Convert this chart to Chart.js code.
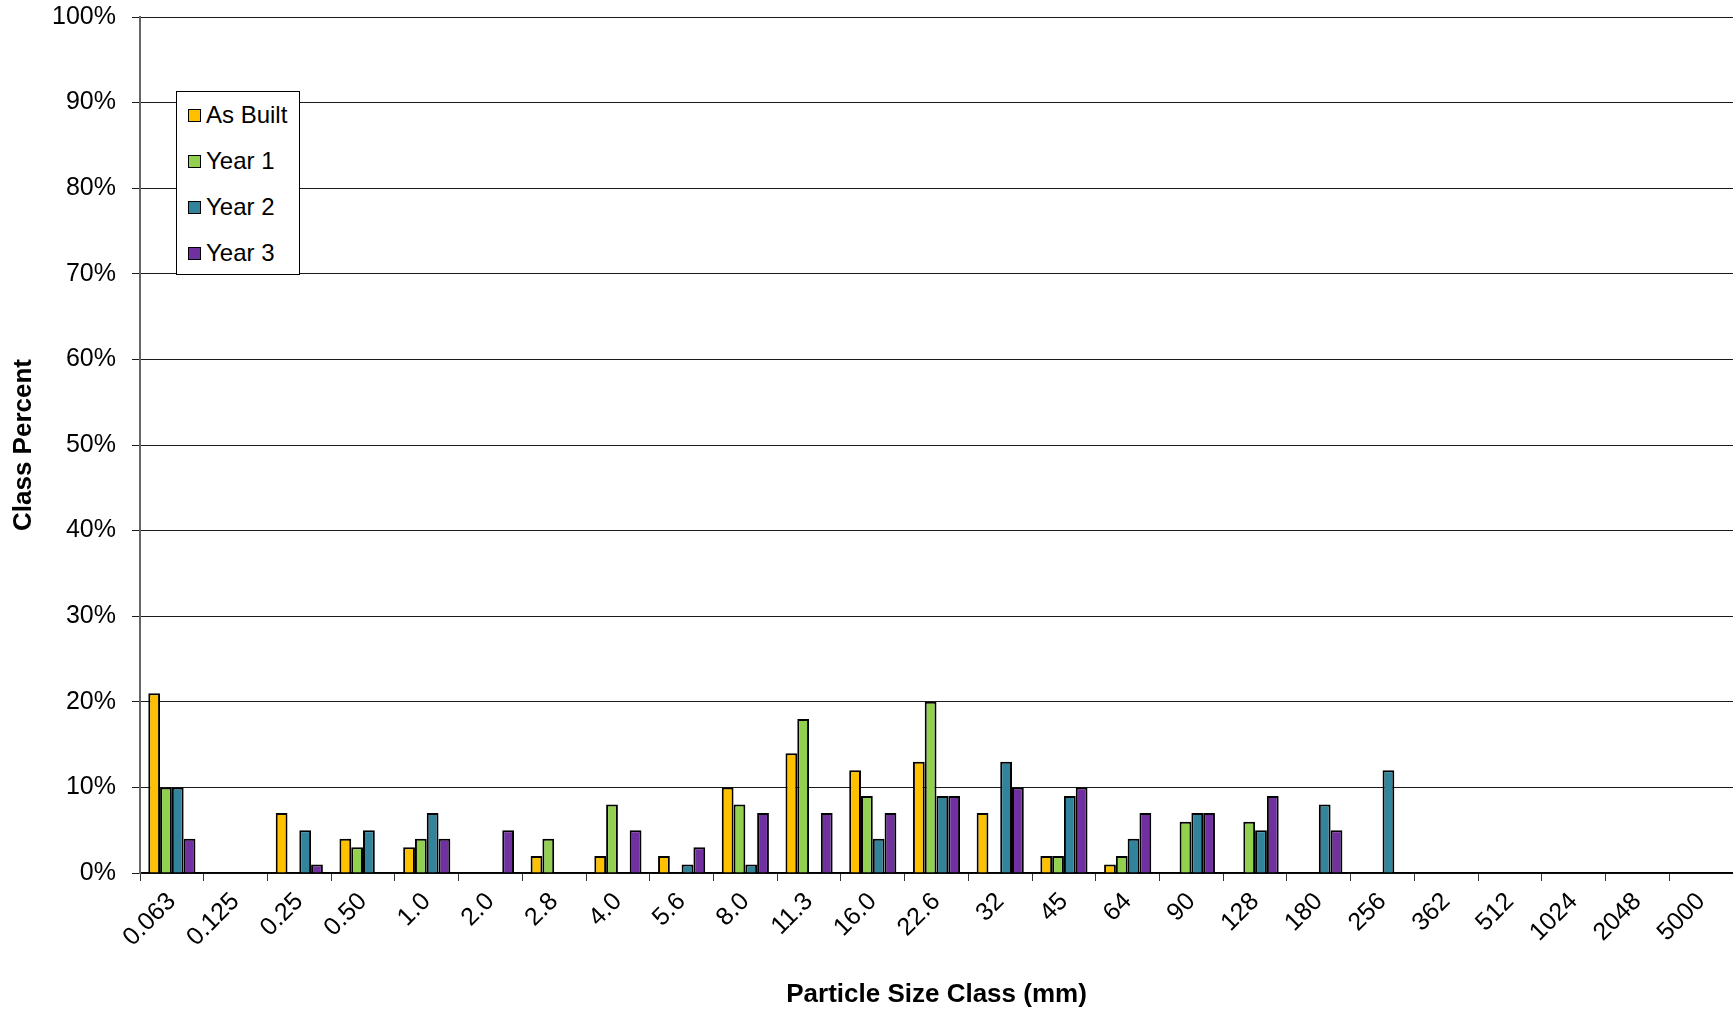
<!DOCTYPE html>
<html>
<head>
<meta charset="utf-8">
<title>Particle Size Class</title>
<script src="https://cdn.jsdelivr.net/npm/chart.js@4/dist/chart.umd.min.js"></script>
<style>
  body { margin: 0; background: #fff; }
  #wrap { position: relative; width: 1733px; height: 1011px; }
  #legend {
    position: absolute; left: 176px; top: 91px; width: 122px; height: 182px;
    border: 1px solid #000; background: #fff;
    font-family: 'Liberation Sans', Arial, sans-serif; font-size: 24px; color: #000;
  }
  #legend .item { height: 46px; display: flex; align-items: center; }
  #legend .box { width: 11px; height: 11px; border: 1px solid #000; margin: 0 5px 0 11px; }
</style>
</head>
<body>
<div id="wrap">
  <canvas id="sizes"></canvas>
  <div id="legend"></div>
</div>
<script>
// size classes (mm) along the bottom
const sizeClasses = ['0.063', '0.125', '0.25', '0.50', '1.0', '2.0', '2.8', '4.0', '5.6', '8.0', '11.3', '16.0', '22.6',
  '32', '45', '64', '90', '128', '180', '256', '362', '512', '1024', '2048', '5000'];

// class percent per survey
const asBuilt = [21, 0, 7, 4, 3, 0, 2, 2, 2, 10, 14, 12, 13, 7, 2, 1, 0, 0, 0, 0, 0, 0, 0, 0, 0];
const year1 = [10, 0, 0, 3, 4, 0, 4, 8, 0, 8, 18, 9, 20, 0, 2, 2, 6, 6, 0, 0, 0, 0, 0, 0, 0];
const year2 = [10, 0, 5, 5, 7, 0, 0, 0, 1, 1, 0, 4, 9, 13, 9, 4, 7, 5, 8, 12, 0, 0, 0, 0, 0];
const year3 = [4, 0, 1, 0, 4, 5, 0, 5, 3, 7, 7, 7, 9, 10, 10, 7, 7, 9, 5, 0, 0, 0, 0, 0, 0];

const seriesNames = ['As Built', 'Year 1', 'Year 2', 'Year 3'];
const seriesColors = ['#FFC000', '#92D050', '#31849B', '#7030A0'];
const seriesData = [asBuilt, year1, year2, year3];

const fontFamily = "'Liberation Sans', Arial, sans-serif";

let datasets = [];
for (var i = 0; i < seriesNames.length; i++) {
  datasets.push({
    label: seriesNames[i],
    data: seriesData[i],
    backgroundColor: seriesColors[i],
    borderColor: '#000',
    borderWidth: 2,
    borderSkipped: 'bottom',
    categoryPercentage: 0.74,
    barPercentage: 1.0
  });
}

// legend box sits inside the plot, built as html
let legendHtml = '';
for (var j = 0; j < seriesNames.length; j++) {
  legendHtml += '<div class="item"><span class="box" style="background:' + seriesColors[j] + '"></span>' + seriesNames[j] + '</div>';
}
document.getElementById('legend').innerHTML = legendHtml;

const ctx = document.getElementById('sizes').getContext('2d');
const sizeChart = new Chart(ctx, {
  type: 'bar',
  data: {
    labels: sizeClasses,
    datasets: datasets
  },
  options: {
    responsive: true,
    maintainAspectRatio: false,
    animation: false,
    layout: { padding: { top: 17, right: 0, bottom: 0, left: 0 } },
    plugins: {
      legend: { display: false },
      tooltip: { enabled: false }
    },
    scales: {
      x: {
        offset: true,
        grid: { drawOnChartArea: false, drawTicks: true, tickLength: 8, color: '#333', offset: true },
        border: { color: '#000', width: 1.5 },
        ticks: {
          minRotation: 45, maxRotation: 45, autoSkip: false, padding: 6,
          color: '#000', font: { family: fontFamily, size: 25 }
        },
        title: {
          display: true, text: 'Particle Size Class (mm)', color: '#000',
          font: { family: fontFamily, size: 26, weight: 'bold' },
          padding: { top: 0, bottom: 1 }
        },
        afterFit: function(scale) { scale.height = 138; }
      },
      y: {
        min: 0, max: 100,
        grid: { color: '#1a1a1a', lineWidth: 1, tickLength: 8 },
        border: { color: '#666', width: 2 },
        ticks: {
          stepSize: 10, padding: 16, color: '#000',
          font: { family: fontFamily, size: 25 },
          callback: function(v) { return v + '%'; }
        },
        title: {
          display: true, text: 'Class Percent', color: '#000',
          font: { family: fontFamily, size: 26, weight: 'bold' },
          padding: { top: 8, bottom: 0 }
        },
        afterFit: function(scale) {
          scale.width = 140;
          // top/bottom set by layout padding only
          scale.paddingTop = 0;
          scale.paddingBottom = 0;
        }
      }
    }
  }
});
</script>
</body>
</html>
